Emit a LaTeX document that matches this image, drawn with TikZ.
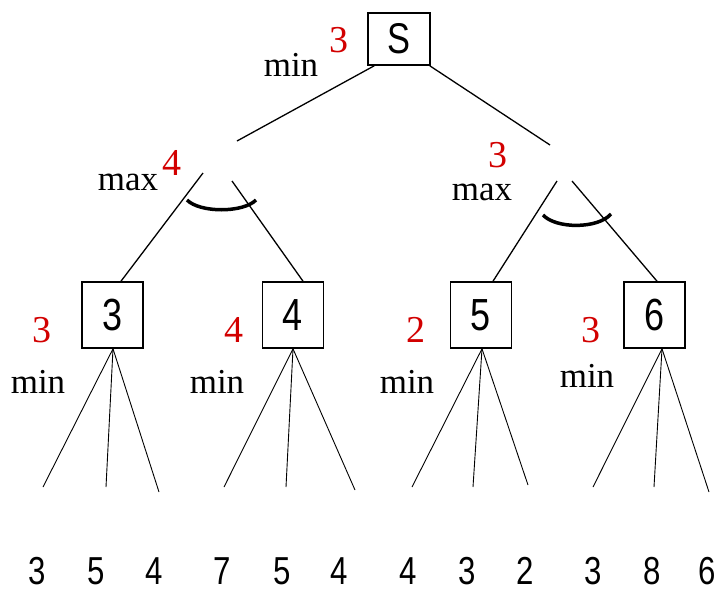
\documentclass[tikz,border=0pt]{standalone}
\usepackage{fontspec}
\setmainfont{Liberation Serif}
\newfontfamily\digfont[FakeStretch=0.8]{Liberation Sans}
\usetikzlibrary{calc}
\definecolor{valred}{RGB}{210,0,0}
\tikzset{
  minbox/.style={draw,line width=1.6pt,minimum width=61pt,minimum height=66pt,inner sep=0pt,font=\digfont\fontsize{45}{50}\selectfont},
  rootbox/.style={draw,line width=1.6pt,minimum width=62pt,minimum height=52pt,inner sep=0pt,font=\digfont\fontsize{43}{48}\selectfont},
  kind/.style={anchor=base,inner sep=0pt,font=\fontsize{35}{40}\selectfont},
  val/.style={anchor=base,inner sep=0pt,text=valred,font=\fontsize{38}{42}\selectfont},
  leaf/.style={anchor=base,inner sep=0pt,font=\digfont\fontsize{39}{44}\selectfont},
  edge/.style={line width=1.3pt},
  leafedge/.style={line width=0.9pt},
  andarc/.style={line width=3.5pt}
}
\begin{document}
\begin{tikzpicture}[x=1pt,y=-1pt]
\useasboundingbox (0,0) rectangle (715,590);
% root
\node[rootbox] (S) at (399,39) {S};
\node[val] (vS) at (339,52) {3};
\node[kind] (kS) at (291,76) {min};
% max nodes (apex points)
\coordinate (mLin) at (237,141);
\coordinate (mLl) at (203,173);
\coordinate (mLr) at (232,181);
\coordinate (mRin) at (550,145);
\coordinate (mRl) at (557,181);
\coordinate (mRr) at (572,181);
\node[val] (vL) at (172,175) {4};
\node[kind] (kL) at (128,190) {max};
\node[val] (vR) at (498,167) {3};
\node[kind] (kR) at (482,200) {max};
% min boxes
\node[minbox] (b3) at (112.5,315) {3};
\node[minbox] (b4) at (293,315) {4};
\node[minbox] (b5) at (481,315) {5};
\node[minbox] (b6) at (654.5,315) {6};
\node[val] (v3) at (42,342) {3};
\node[val] (v4) at (234,342) {4};
\node[val] (v5) at (416,342) {2};
\node[val] (v6) at (591,342) {3};
\node[kind] (k3) at (38,393) {min};
\node[kind] (k4) at (217,393) {min};
\node[kind] (k5) at (407,393) {min};
\node[kind] (k6) at (587,387) {min};
% root edges
\draw[edge] ($(S.south west)+(7,0)$) -- (mLin);
\draw[edge] ($(S.south east)+(-1,0)$) -- (mRin);
% max edges
\draw[edge] (mLl) -- ($(b3.north)+(8.5,0)$);
\draw[edge] (mLr) -- ($(b4.north)+(10,0)$);
\draw[edge] (mRl) -- ($(b5.north)+(12,0)$);
\draw[edge] (mRr) -- ($(b6.north)+(2.5,0)$);
% and arcs
\draw[andarc] (187,200) .. controls (200,213) and (243,213) .. (256,200);
\draw[andarc] (543,215) .. controls (556,229) and (598,229) .. (611,214);
% leaf edge ends
\coordinate (e1) at (43,487);
\coordinate (e2) at (106,487);
\coordinate (e3) at (159,492);
\coordinate (e4) at (224,487);
\coordinate (e5) at (286,487);
\coordinate (e6) at (355,490);
\coordinate (e7) at (412,487);
\coordinate (e8) at (473,487);
\coordinate (e9) at (528,485);
\coordinate (e10) at (593,487);
\coordinate (e11) at (654,487);
\coordinate (e12) at (709,492);
\coordinate (a3) at ($(b3.south)+(0.5,0)$);
\coordinate (a4) at (b4.south);
\coordinate (a5) at ($(b5.south)+(1,0)$);
\coordinate (a6) at ($(b6.south)+(7.5,0)$);
\foreach \a/\i/\j/\k in {a3/e1/e2/e3,a4/e4/e5/e6,a5/e7/e8/e9,a6/e10/e11/e12}{
  \draw[leafedge] (\a) -- (\i);
  \draw[leafedge] (\a) -- (\j);
  \draw[leafedge] (\a) -- (\k);
}
% leaves
\node[leaf] (n1) at (37,584) {3};
\node[leaf] (n2) at (96,584) {5};
\node[leaf] (n3) at (154,584) {4};
\node[leaf] (n4) at (222,584) {7};
\node[leaf] (n5) at (282,584) {5};
\node[leaf] (n6) at (339,584) {4};
\node[leaf] (n7) at (408,584) {4};
\node[leaf] (n8) at (467,584) {3};
\node[leaf] (n9) at (525,584) {2};
\node[leaf] (n10) at (593,584) {3};
\node[leaf] (n11) at (652,584) {8};
\node[leaf] (n12) at (707,584) {6};
\end{tikzpicture}
\end{document}
